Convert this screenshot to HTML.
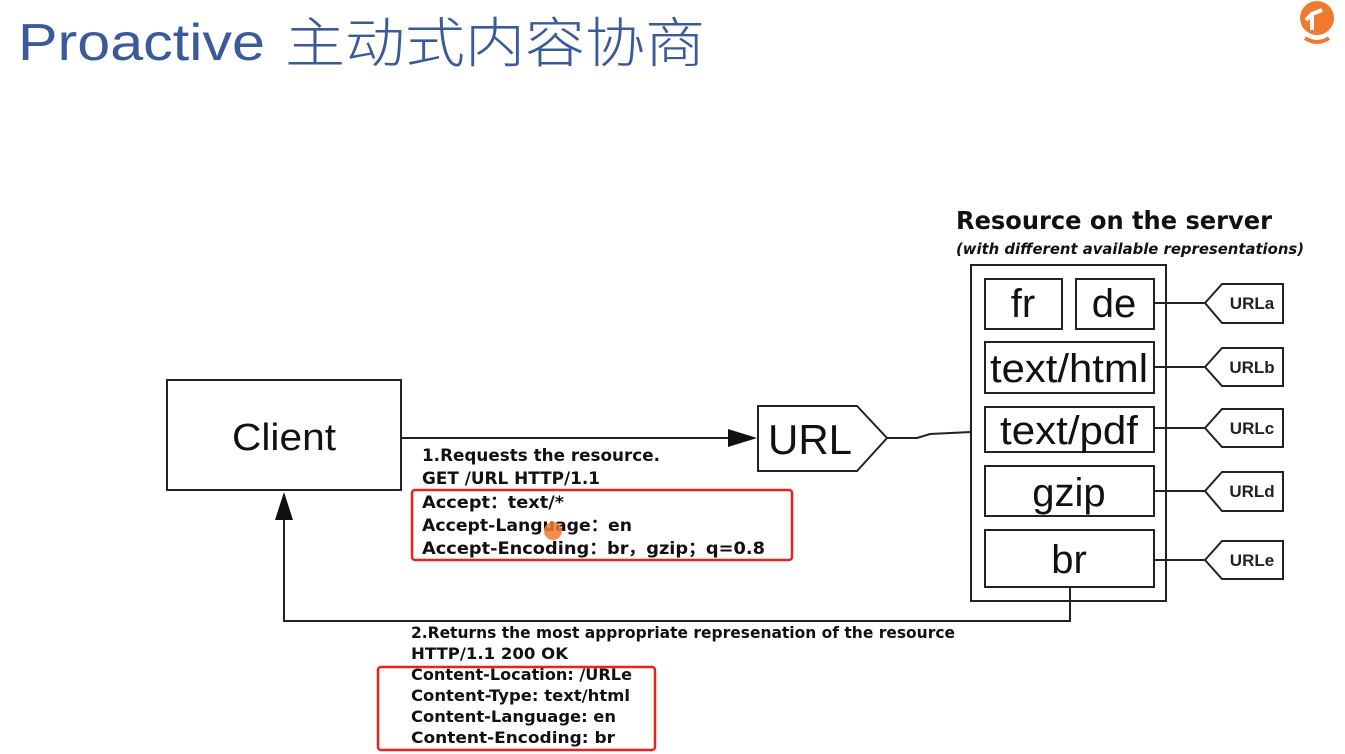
<!DOCTYPE html>
<html><head><meta charset="utf-8"><style>
html,body{margin:0;padding:0;background:#fff;width:1345px;height:754px;overflow:hidden}
svg{display:block}
.t{font-family:"Liberation Sans","Noto Sans CJK SC",sans-serif}
.b{font-family:"DejaVu Sans","Liberation Sans",sans-serif;font-weight:bold;fill:#111}
</style></head><body>
<svg width="1345" height="754" xmlns="http://www.w3.org/2000/svg">
<text x="18" y="60" font-size="52" fill="#3b5a9a" style="font-family:'Liberation Sans',sans-serif" textLength="247" lengthAdjust="spacingAndGlyphs">Proactive</text>
<text x="285" y="62" font-size="54" fill="#3b5a9a" style="font-family:'Noto Sans CJK SC',sans-serif;font-weight:300" textLength="420" lengthAdjust="spacingAndGlyphs">主动式内容协商</text>
<!-- logo -->
<circle cx="1317" cy="18" r="17" fill="#f07a30"/>
<path d="M1312 30 L1312 14 L1322 10 M1312 14 L1306 20" stroke="#fff" stroke-width="4" fill="none"/>
<path d="M1305 38 Q1317 46 1329 38" stroke="#f07a30" stroke-width="4" fill="none"/>

<g stroke="#222" stroke-width="2" fill="none">
<rect x="167" y="380" width="234" height="110"/>
<path d="M401 438 H730"/>
<path d="M758 406 H857 L887 438 L857 471 H758 Z"/>
<path d="M887 438 H917 L930 434 L971 432"/>
<rect x="971" y="265" width="195" height="336"/>
<rect x="985" y="279" width="77" height="50"/>
<rect x="1076" y="279" width="78" height="50"/>
<rect x="985" y="342" width="169" height="51"/>
<rect x="985" y="407" width="169" height="45"/>
<rect x="985" y="466" width="169" height="50"/>
<rect x="985" y="530" width="169" height="57"/>
<path d="M1154 303 H1205 M1154 367 H1205 M1154 428 H1205 M1154 491 H1205 M1154 560 H1205"/>
<path d="M1070 587 V621 H284 V515"/>
</g>
<g stroke="#222" stroke-width="2" fill="#fff">
<path d="M1205 303 L1222 284 H1283 V323 H1222 Z"/>
<path d="M1205 367 L1222 348 H1283 V386 H1222 Z"/>
<path d="M1205 428 L1222 409 H1283 V447 H1222 Z"/>
<path d="M1205 491 L1222 472 H1283 V511 H1222 Z"/>
<path d="M1205 560 L1222 541 H1283 V579 H1222 Z"/>
</g>
<path d="M757 438 L728 429 L728 447 Z" fill="#111"/>
<path d="M284 492 L275 520 L293 520 Z" fill="#111"/>

<g class="t" fill="#111" text-anchor="middle">
<text x="284" y="450" font-size="38" textLength="104" lengthAdjust="spacingAndGlyphs">Client</text>
<text x="810" y="454" font-size="42">URL</text>
<text x="1023" y="317" font-size="40">fr</text>
<text x="1114" y="317" font-size="40">de</text>
<text x="1069" y="382" font-size="40" textLength="158" lengthAdjust="spacingAndGlyphs">text/html</text>
<text x="1069" y="444" font-size="40" textLength="138" lengthAdjust="spacingAndGlyphs">text/pdf</text>
<text x="1069" y="506" font-size="40">gzip</text>
<text x="1069" y="573" font-size="40">br</text>
<g font-size="17" font-weight="bold" fill="#222"><text x="1252" y="309">URLa</text><text x="1252" y="373">URLb</text><text x="1252" y="434">URLc</text><text x="1252" y="497">URLd</text><text x="1252" y="566">URLe</text></g>
</g>

<text x="956" y="229" class="b" font-size="25" textLength="316" lengthAdjust="spacingAndGlyphs">Resource on the server</text>
<text x="956" y="254" class="b" font-size="15" font-style="italic" textLength="348" lengthAdjust="spacingAndGlyphs">(with different available representations)</text>

<g class="b" font-size="17">
<text x="422" y="461" textLength="238" lengthAdjust="spacingAndGlyphs">1.Requests the resource.</text>
<text x="422" y="484" textLength="178" lengthAdjust="spacingAndGlyphs">GET /URL HTTP/1.1</text>
<text x="422" y="508" textLength="142" lengthAdjust="spacingAndGlyphs">Accept：text/*</text>
<text x="422" y="531" textLength="210" lengthAdjust="spacingAndGlyphs">Accept-Language：en</text>
<text x="422" y="554" textLength="343" lengthAdjust="spacingAndGlyphs">Accept-Encoding：br，gzip；q=0.8</text>
</g>
<rect x="412" y="490" width="380" height="70" rx="3" fill="none" stroke="#e8231f" stroke-width="2.5"/>
<circle cx="553" cy="531" r="9" fill="#f07a30" opacity="0.85"/>

<g class="b" font-size="16">
<text x="411" y="638" textLength="544" lengthAdjust="spacingAndGlyphs">2.Returns the most appropriate represenation of the resource</text>
<text x="411" y="659" textLength="157" lengthAdjust="spacingAndGlyphs">HTTP/1.1  200  OK</text>
<text x="411" y="680" textLength="221" lengthAdjust="spacingAndGlyphs">Content-Location:  /URLe</text>
<text x="411" y="701" textLength="219" lengthAdjust="spacingAndGlyphs">Content-Type:  text/html</text>
<text x="411" y="722" textLength="205" lengthAdjust="spacingAndGlyphs">Content-Language:   en</text>
<text x="411" y="743" textLength="204" lengthAdjust="spacingAndGlyphs">Content-Encoding:   br</text>
</g>
<rect x="378" y="667" width="277" height="83" rx="3" fill="none" stroke="#e8231f" stroke-width="2.5"/>
</svg>
</body></html>
